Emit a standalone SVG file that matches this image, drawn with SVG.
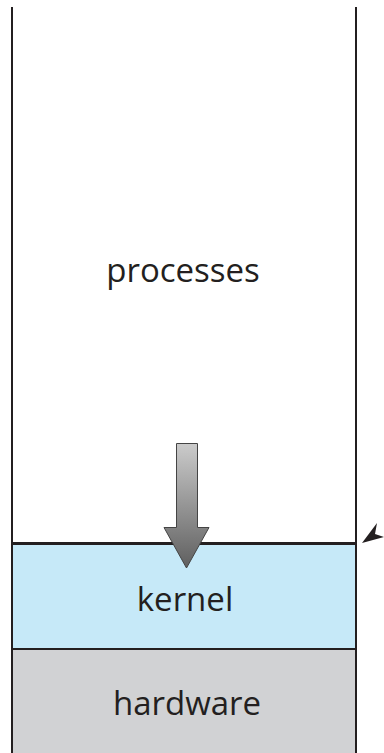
<svg xmlns="http://www.w3.org/2000/svg" width="384" height="753" viewBox="0 0 384 753">
<defs>
<style>
.lbl{font-family:"Open Sans","Noto Sans",sans-serif;font-size:33px;fill:#231f20;text-anchor:middle}
.edge{stroke:#231f20;stroke-width:2;fill:none}
</style>
<linearGradient id="ag" x1="0" y1="0" x2="0" y2="1">
<stop offset="0" stop-color="#cbcbcb"/>
<stop offset="1" stop-color="#5f5f5f"/>
</linearGradient>
</defs>
<rect width="384" height="753" fill="#ffffff"/>
<g id="processes">
<line class="edge" x1="12" y1="7" x2="12" y2="543"/>
<line class="edge" x1="356" y1="7" x2="356" y2="543"/>
<text class="lbl" x="183" y="282">processes</text>
</g>
<g id="kernel">
<rect x="12" y="543" width="344" height="106" fill="#c6e9f8" stroke="#231f20" stroke-width="2"/>
<line x1="12" y1="543.5" x2="356" y2="543.5" stroke="#231f20" stroke-width="3"/>
<text class="lbl" x="185" y="611">kernel</text>
</g>
<g id="hardware">
<rect x="12" y="649" width="344" height="106" fill="#d1d2d4" stroke="#231f20" stroke-width="2"/>
<text class="lbl" x="187" y="715">hardware</text>
</g>
<g id="connectors">
<path d="M176.5,443.5 H197.5 V527.5 H209 L186.5,568 L164,527.5 H176.5 Z" fill="url(#ag)" stroke="#444" stroke-width="1"/>
<path d="M362,543 L377,523 L375,534 L384,537 Z" fill="#231f20"/>
</g>
</svg>
